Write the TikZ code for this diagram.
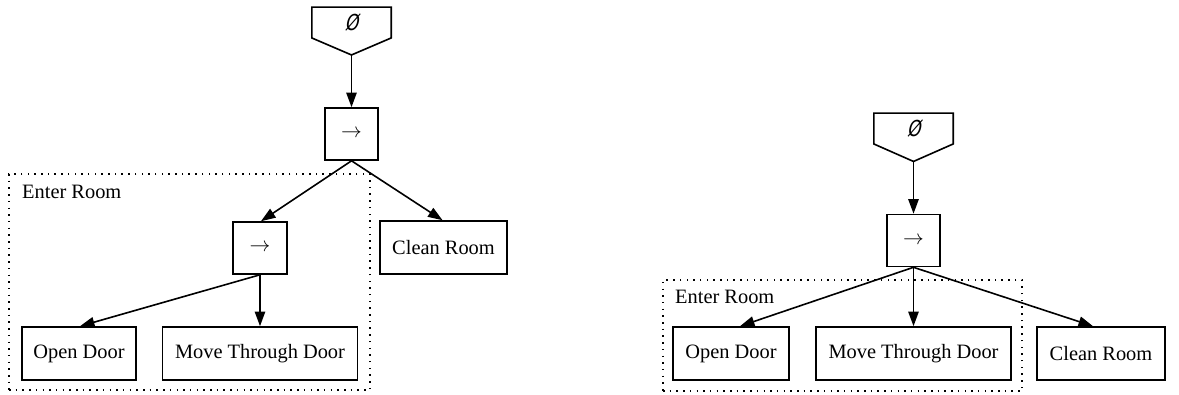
\documentclass[tikz,border=0pt]{standalone}
\usepackage{fontspec}
\setmainfont{Liberation Serif}
\newfontfamily\symfont[FakeSlant=0.22,FakeStretch=0.78]{DejaVu Sans}
\usetikzlibrary{arrows.meta,calc}
\newcommand{\seqsym}{$\rightarrow$}
\begin{document}
\begin{tikzpicture}[x=1pt,y=-1pt,
  every node/.style={font=\fontsize{20.4}{24}\selectfont, inner sep=0pt},
  taskbox/.style={draw, line width=1.6pt, minimum height=53pt, align=center},
  seqbox/.style={draw, line width=1.6pt, minimum width=53pt, minimum height=52pt},
  rootbox/.style={minimum width=79pt, minimum height=30.5pt, font=\fontsize{22}{24}\symfont},
  rootshape/.style={draw, line width=1.6pt, line join=miter},
  group/.style={draw, line width=1.5pt, dash pattern=on 1.5pt off 5.2pt},
  grouplabel/.style={anchor=west},
  edge/.style={draw, line width=1.6pt, -{Triangle[length=14.5pt,width=10.3pt]}}
]
\useasboundingbox (0,0) rectangle (1179,394);

% ---------- left tree ----------
\node[group, minimum width=361pt, minimum height=216pt] (grpA) at (189.5,282) {};
\node[grouplabel] (grpAlabel) at (22,192) {Enter Room};

\node[rootbox] (rootA) at (351.5,22.5) {Ø};
\coordinate (rootAtip) at ($(rootA.south)+(0,17)$);
\draw[rootshape] (rootA.north west) -- (rootA.north east) -- (rootA.south east)
  -- (rootAtip) -- (rootA.south west) -- cycle;

\node[seqbox] (seqA) at (351.5,134) {\seqsym};
\node[seqbox, minimum width=54pt] (seqB) at (260,248) {\seqsym};
\node[taskbox, minimum width=127pt] (cleanA) at (443.5,247.5) {Clean Room};
\node[taskbox, minimum width=114pt] (openA) at (79,353.5) {Open Door};
\node[taskbox, minimum width=195pt] (moveA) at (260,353.5) {Move Through Door};

\draw[edge] (rootAtip) -- (seqA.north);
\draw[edge] (seqA.south) -- ([xshift=1pt]seqB.north);
\draw[edge] (seqA.south) -- ([xshift=-1pt]cleanA.north);
\draw[edge] (seqB.south) -- ([xshift=1pt]openA.north);
\draw[edge] (seqB.south) -- (moveA.north);

% ---------- right tree ----------
\node[group, minimum width=359pt, minimum height=111pt] (grpB) at (842.5,335.5) {};
\node[grouplabel] (grpBlabel) at (675,297) {Enter Room};

\node[rootbox] (rootB) at (913.5,128.5) {Ø};
\coordinate (rootBtip) at ($(rootB.south)+(0,17.5)$);
\draw[rootshape] (rootB.north west) -- (rootB.north east) -- (rootB.south east)
  -- (rootBtip) -- (rootB.south west) -- cycle;

\node[seqbox] (seqC) at (913.5,240.5) {\seqsym};
\node[taskbox, minimum width=116pt] (openB) at (731,353.5) {Open Door};
\node[taskbox, minimum width=195pt] (moveB) at (913.5,353.5) {Move Through Door};
\node[taskbox, minimum width=128pt] (cleanB) at (1101,353.5) {Clean Room};

\draw[edge] (rootBtip) -- (seqC.north);
\draw[edge] (seqC.south) -- ([xshift=9pt]openB.north);
\draw[edge] (seqC.south) -- (moveB.north);
\draw[edge] (seqC.south) -- ([xshift=-8pt]cleanB.north);
\end{tikzpicture}
\end{document}
